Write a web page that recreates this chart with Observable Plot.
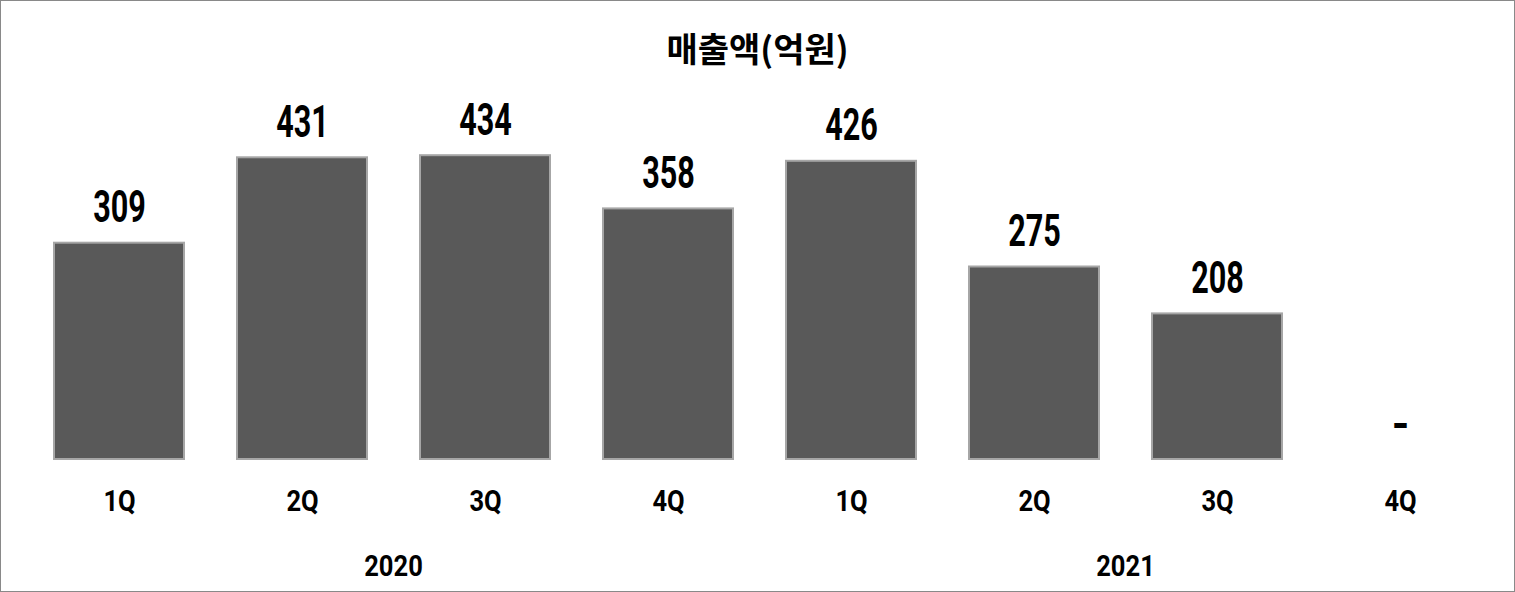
<!DOCTYPE html>
<html><head><meta charset="utf-8">
<script src="https://cdn.jsdelivr.net/npm/d3@7"></script>
<script src="https://cdn.jsdelivr.net/npm/@observablehq/plot@0.6"></script>
<style>
html,body{margin:0;padding:0;background:#fff;}
#wrap{position:relative;width:1515px;height:592px;overflow:hidden;background:#fff;}
#title{position:absolute;left:0;right:0;top:26px;text-align:center;font-family:"Noto Sans CJK KR";font-weight:700;font-size:34px;line-height:44px;color:#000;z-index:2}
#chart{position:absolute;left:0;top:0;z-index:1}
#border{position:absolute;left:0;top:0;width:1515px;height:592px;box-sizing:border-box;border:1px solid #898989;z-index:3;pointer-events:none}
</style></head><body>
<div id="wrap"><div id="chart"></div><div id="title">매출액(억원)</div><div id="border"></div></div>
<script>
const years = ["2020","2020","2020","2020","2021","2021","2021","2021"];
const quarters = ["1Q","2Q","3Q","4Q","1Q","2Q","3Q","4Q"];
const sales = [309,431,434,358,426,275,208,null];
const quarterDomain = ["1Q","2Q","3Q","4Q"];
const data = sales.map((v,i)=>({year:years[i], quarter:quarters[i], value:v}));

const plot = Plot.plot({
  width:1515, height:592,
  marginTop:109, marginBottom:133, marginLeft:26, marginRight:24,
  fx:{padding:0, label:null},
  x:{domain:quarterDomain, paddingInner:0.29, paddingOuter:0.145, label:null},
  y:{domain:[0,500], axis:null},
  style:{fontFamily:"Roboto", fontWeight:700, color:"#000", background:"transparent"},
  marks:[
    Plot.barY(data.filter(d=>d.value!=null), {fx:"year", x:"quarter", y:"value", fill:"#595959", stroke:"#a6a6a6", strokeWidth:2}),
    Plot.text(data, {fx:"year", x:"quarter", y:d=>d.value ?? 0, text:d=>d.value==null?"-":String(d.value), lineAnchor:"bottom", dy:-21, fontSize:45, fill:"#000"}),
    Plot.axisX({tickSize:0, tickPadding:31, fontSize:29, label:null}),
    Plot.axisFx({anchor:"bottom", tickSize:0, tickPadding:96, fontSize:29, label:null})
  ]
});
document.getElementById("chart").append(plot);
function squeeze(sel, f){
  plot.querySelectorAll(sel).forEach(t=>{
    if (t.textContent === "-") return;
    const L = t.getComputedTextLength();
    t.setAttribute("textLength", L*f);
    t.setAttribute("lengthAdjust","spacingAndGlyphs");
  });
}
squeeze('g[aria-label="text"] text', 0.68);
squeeze('g[aria-label$="tick label"] text', 0.88);
</script>
</body></html>
